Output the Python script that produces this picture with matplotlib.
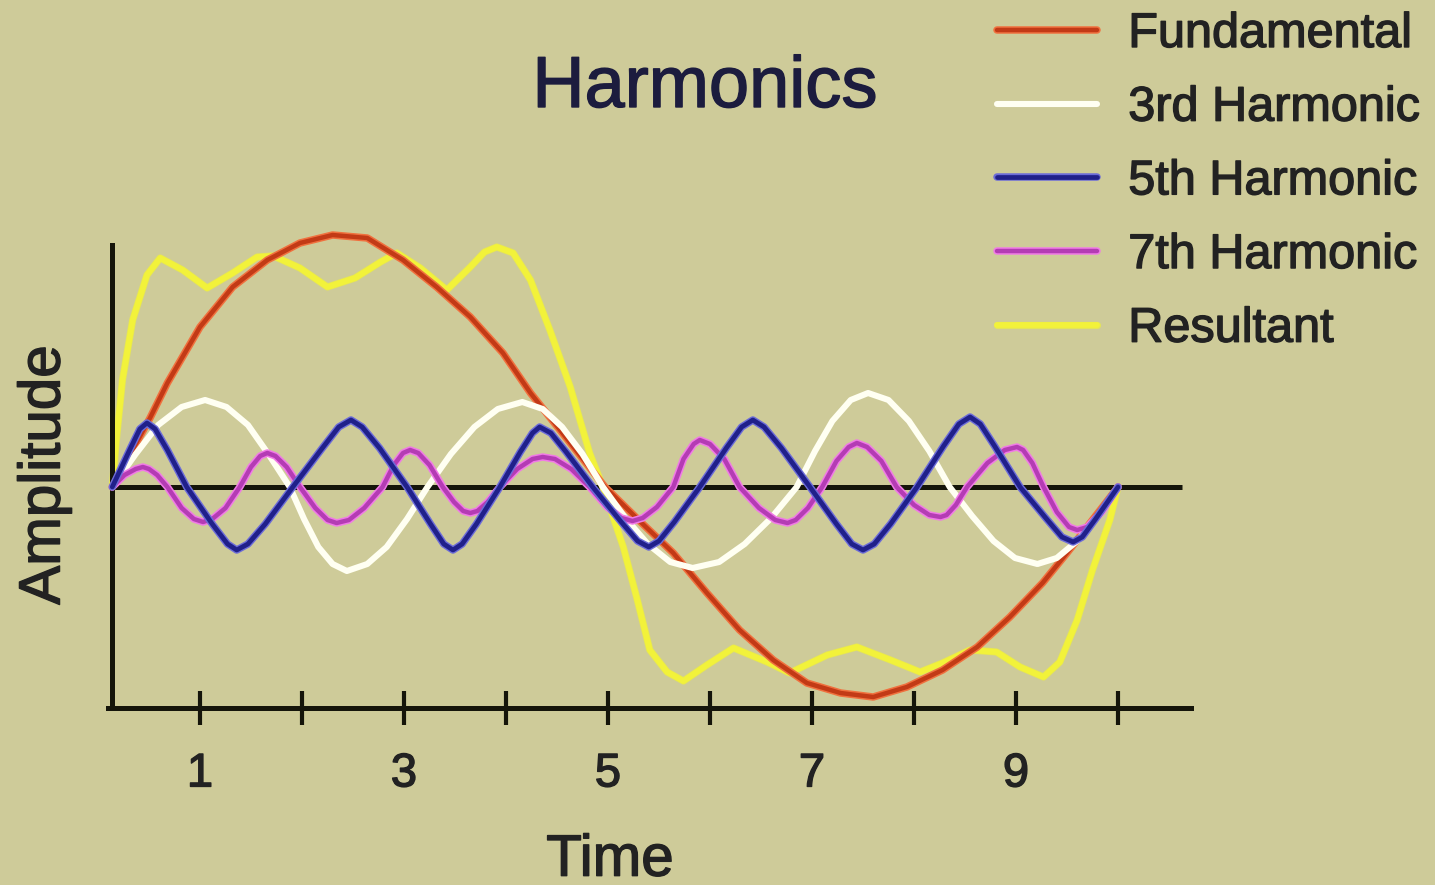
import matplotlib
matplotlib.use("Agg")
import matplotlib.pyplot as plt
import matplotlib.patheffects as pe

plt.rcParams['font.family'] = ['Liberation Sans', 'DejaVu Sans']

# ---------------- data ----------------
title = "Harmonics"
x_label = "Time"
y_label = "Amplitude"
tick_positions = [1, 2, 3, 4, 5, 6, 7, 8, 9, 10]
tick_labels = ["1", "", "3", "", "5", "", "7", "", "9", ""]
series_names = ["Fundamental", "3rd Harmonic", "5th Harmonic", "7th Harmonic", "Resultant"]

time_fund = [0.14, 0.51, 0.68, 1.00, 1.32, 1.66, 1.98, 2.30, 2.64, 2.99, 3.32, 3.65, 3.97,
             4.24, 4.60, 4.97, 5.31, 5.64, 5.97, 6.29, 6.62, 6.95, 7.28, 7.60, 7.93, 8.28,
             8.62, 8.94, 9.26, 9.50, 9.75, 10.00]
amp_fund = [0.00, 0.69, 1.04, 1.60, 2.00, 2.27, 2.44, 2.52, 2.49, 2.27, 2.00, 1.70, 1.34,
            0.94, 0.48, 0.00, -0.34, -0.66, -1.06, -1.43, -1.73, -1.96, -2.06, -2.10, -2.00,
            -1.83, -1.60, -1.30, -0.96, -0.66, -0.33, 0.00]

time_3rd = [0.14, 0.37, 0.59, 0.82, 1.05, 1.26, 1.47, 1.67, 1.88,
            2.02, 2.16, 2.30, 2.44, 2.64, 2.83, 3.03, 3.23,
            3.46, 3.69, 3.92, 4.16, 4.36, 4.55, 4.75, 4.95,
            5.17, 5.39, 5.61, 5.83, 6.09, 6.34, 6.60, 6.85,
            7.03, 7.20, 7.38, 7.55, 7.75, 7.95, 8.15, 8.35,
            8.57, 8.78, 8.99, 9.21, 9.40, 9.60, 9.80, 10.00]
amp_3rd = [0.00, 0.33, 0.62, 0.80, 0.87, 0.80, 0.62, 0.33, 0.00,
           -0.32, -0.60, -0.77, -0.84, -0.77, -0.60, -0.32, 0.00,
           0.33, 0.60, 0.78, 0.85, 0.78, 0.60, 0.33, 0.00,
           -0.31, -0.57, -0.75, -0.81, -0.75, -0.57, -0.31, 0.00,
           0.36, 0.66, 0.87, 0.94, 0.87, 0.66, 0.36, 0.00,
           -0.29, -0.54, -0.71, -0.77, -0.71, -0.54, -0.29, 0.00]

time_5th = [0.14, 0.31, 0.41, 0.48, 0.56, 0.68, 0.87,
            1.12, 1.27, 1.36, 1.47, 1.64, 1.91,
            2.20, 2.36, 2.48, 2.59, 2.76, 3.03,
            3.26, 3.39, 3.48, 3.57, 3.71, 3.94,
            4.14, 4.26, 4.33, 4.44, 4.59, 4.85,
            5.13, 5.29, 5.40, 5.50, 5.65, 5.90,
            6.16, 6.31, 6.42, 6.53, 6.70, 6.98,
            7.24, 7.39, 7.50, 7.61, 7.77, 8.03,
            8.29, 8.44, 8.55, 8.65, 8.79, 9.04,
            9.30, 9.45, 9.56, 9.65, 9.78, 10.00]
amp_5th = [0.00, 0.37, 0.58, 0.64, 0.58, 0.37, 0.00,
           -0.37, -0.57, -0.63, -0.57, -0.37, 0.00,
           0.39, 0.60, 0.67, 0.60, 0.39, 0.00,
           -0.37, -0.57, -0.63, -0.57, -0.37, 0.00,
           0.35, 0.54, 0.60, 0.54, 0.35, 0.00,
           -0.35, -0.54, -0.60, -0.54, -0.35, 0.00,
           0.39, 0.60, 0.67, 0.60, 0.39, 0.00,
           -0.37, -0.57, -0.63, -0.57, -0.37, 0.00,
           0.41, 0.63, 0.70, 0.63, 0.41, 0.00,
           -0.32, -0.50, -0.55, -0.50, -0.32, 0.00]

time_7th = [0.14, 0.26, 0.37, 0.44, 0.50, 0.58, 0.68,
            0.82, 0.94, 1.03, 1.12, 1.25, 1.39,
            1.50, 1.59, 1.66, 1.74, 1.85, 1.98,
            2.13, 2.25, 2.34, 2.46, 2.61, 2.79,
            2.90, 2.99, 3.06, 3.14, 3.25, 3.38,
            3.49, 3.58, 3.65, 3.72, 3.82, 3.94,
            4.11, 4.26, 4.36, 4.48, 4.64, 4.82,
            4.99, 5.13, 5.24, 5.34, 5.48, 5.64,
            5.74, 5.84, 5.90, 6.00, 6.14, 6.29,
            6.48, 6.64, 6.76, 6.84, 6.96, 7.10,
            7.24, 7.36, 7.44, 7.54, 7.68, 7.83,
            8.00, 8.15, 8.26, 8.32, 8.41, 8.52,
            8.72, 8.89, 9.01, 9.07, 9.16, 9.27,
            9.40, 9.52, 9.60, 9.70, 9.84, 10.00]
amp_7th = [0.00, 0.12, 0.18, 0.20, 0.18, 0.12, 0.00,
           -0.21, -0.32, -0.35, -0.32, -0.21, 0.00,
           0.20, 0.31, 0.34, 0.31, 0.20, 0.00,
           -0.21, -0.33, -0.36, -0.33, -0.21, 0.00,
           0.22, 0.34, 0.37, 0.34, 0.22, 0.00,
           -0.15, -0.24, -0.26, -0.24, -0.15, 0.00,
           0.18, 0.28, 0.30, 0.28, 0.18, 0.00,
           -0.20, -0.31, -0.34, -0.31, -0.20, 0.00,
           0.28, 0.43, 0.47, 0.43, 0.28, 0.00,
           -0.21, -0.33, -0.36, -0.33, -0.21, 0.00,
           0.26, 0.40, 0.44, 0.40, 0.26, 0.00,
           -0.18, -0.28, -0.30, -0.28, -0.18, 0.00,
           0.24, 0.37, 0.40, 0.37, 0.24, 0.00,
           -0.25, -0.40, -0.43, -0.40, -0.25, 0.00]

time_res = [0.14, 0.18, 0.24, 0.34, 0.48, 0.61, 0.83, 1.07, 1.32, 1.56, 1.72, 1.98, 2.25,
            2.52, 2.77, 2.93, 3.16, 3.42, 3.65, 3.79, 3.91, 4.07, 4.24, 4.43, 4.63, 4.82,
            4.95, 5.15, 5.28, 5.41, 5.58, 5.74, 5.97, 6.23, 6.56, 6.78, 7.15, 7.44, 7.77,
            8.06, 8.28, 8.55, 8.81, 9.04, 9.27, 9.43, 9.60, 9.75, 9.92, 10.00]
amp_res = [0.00, 0.47, 1.07, 1.67, 2.12, 2.29, 2.17, 1.99, 2.14, 2.30, 2.31, 2.19, 2.00,
           2.09, 2.25, 2.34, 2.19, 1.97, 2.20, 2.35, 2.40, 2.34, 2.07, 1.57, 1.00, 0.34,
           0.00, -0.60, -1.10, -1.63, -1.85, -1.94, -1.78, -1.61, -1.75, -1.86, -1.68, -1.60,
           -1.73, -1.85, -1.76, -1.63, -1.65, -1.80, -1.90, -1.75, -1.33, -0.83, -0.33, 0.00]

# ---------------- styling ----------------
BG = "#cecb99"
AXIS_COL = "#15150a"
TXT = "#222222"
W, H = 1435, 885
bold_txt = [pe.withStroke(linewidth=1.0, foreground=TXT)]

fig = plt.figure(figsize=(W / 100, H / 100), dpi=100, facecolor=BG)
ax = fig.add_axes([98 / W, 165 / H, 1102 / W, 490 / H])
ax.set_facecolor(BG)
ax.set_xlim(0, 10.804)
ax.set_ylim(-2.33, 2.57)

# axis lines
for s in ["top", "right"]:
    ax.spines[s].set_visible(False)
ax.spines["left"].set_position(("data", 0.14))
ax.spines["left"].set_bounds(-2.21, 2.42)
ax.spines["bottom"].set_position(("data", -2.21))
ax.spines["bottom"].set_bounds(0.10, 10.72)
for s in ["left", "bottom"]:
    ax.spines[s].set_linewidth(3.6)
    ax.spines[s].set_color(AXIS_COL)
ax.hlines(0, 0.14, 10.63, color=AXIS_COL, lw=3.6, zorder=1)

ax.set_yticks([])
ax.set_xticks(tick_positions)
ax.set_xticklabels(tick_labels)
ax.tick_params(axis="x", direction="inout", length=24, width=3, color=AXIS_COL,
               labelsize=34, pad=20, labelcolor=TXT)
for lab in ax.get_xticklabels():
    lab.set_path_effects(bold_txt)

def draw(t, a, core, halo, core_w, halo_w, z, name):
    effects = [pe.Stroke(linewidth=halo_w, foreground=halo), pe.Normal()] if halo else None
    ax.plot(t, a, color=core, lw=core_w, solid_joinstyle="round", solid_capstyle="round",
            path_effects=effects, zorder=z, label=name)

draw(time_res, amp_res, "#f2f23a", "#e4e45a", 4.2, 5.2, 2, series_names[4])
draw(time_fund, amp_fund, "#c23a16", "#f0703e", 3.2, 5.4, 3, series_names[0])
draw(time_3rd, amp_3rd, "#fffff2", None, 4.4, None, 4, series_names[1])
draw(time_7th, amp_7th, "#b43cb4", "#f07ae6", 3.2, 5.4, 5, series_names[3])
draw(time_5th, amp_5th, "#20208a", "#6c6cd8", 3.4, 5.4, 6, series_names[2])

handles, labels = ax.get_legend_handles_labels()
order = [labels.index(n) for n in series_names]
leg = fig.legend([handles[i] for i in order], [labels[i] for i in order],
                 loc="upper left", bbox_to_anchor=(997 / W, 1 - 12 / H), frameon=False,
                 borderpad=0, borderaxespad=0, handlelength=2.06, handletextpad=0.64,
                 labelspacing=0.59, fontsize=35, labelcolor=TXT)
for txt in leg.get_texts():
    txt.set_path_effects(bold_txt)

ax.set_xlabel(x_label, fontsize=42, color=TXT, path_effects=bold_txt)
ax.xaxis.set_label_coords((610 - 98) / 1102, -0.232)
ax.set_ylabel(y_label, fontsize=42, color=TXT, path_effects=bold_txt)
ax.yaxis.set_label_coords(-0.024, 0.5)

fig.text(705 / W, 1 - 107 / H, title, ha="center", va="baseline", fontsize=52,
         color="#1c1c3e", path_effects=[pe.withStroke(linewidth=1.0, foreground="#1c1c3e")])

fig.savefig("out.png", dpi=100, facecolor=BG)
